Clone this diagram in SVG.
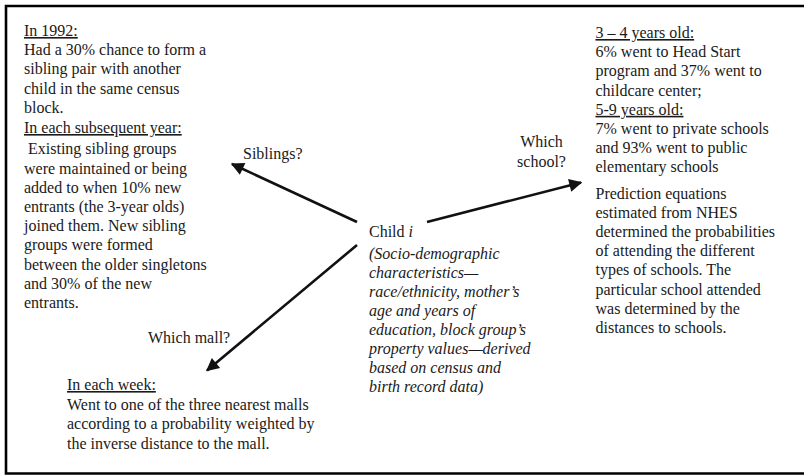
<svg xmlns="http://www.w3.org/2000/svg" width="804" height="475" viewBox="0 0 804 475">
<style>
  text { font-family: "Liberation Serif", "Times New Roman", serif; font-size: 16px; fill: #1a1a1a; }
  .u { text-decoration: underline; }
  .it { font-style: italic; }
  .conn { stroke: #111; stroke-width: 2.6; fill: none; marker-end: url(#ah); }
</style>
<defs>
  <marker id="ah" viewBox="0 0 10 10" refX="9" refY="5" markerWidth="5.5" markerHeight="5" orient="auto" markerUnits="strokeWidth">
    <path d="M0,0 L10,5 L0,10 Z" fill="#111"/>
  </marker>
</defs>
<rect width="804" height="475" fill="#fff"/>
<path d="M810 6 H6 V473.5 H810" fill="none" stroke="#000" stroke-width="2.6"/>

<g id="connectors">
  <line class="conn" x1="357" y1="222" x2="232" y2="164"/>
  <line class="conn" x1="427" y1="222" x2="581" y2="182.5"/>
  <line class="conn" x1="357" y1="245" x2="207" y2="370.5"/>
</g>

<g id="siblings-node">
  <text x="24" y="36"><tspan class="u">In 1992:</tspan></text>
  <text x="24" y="55.2">Had a 30% chance to form a</text>
  <text x="24" y="74.4">sibling pair with another</text>
  <text x="24" y="93.6">child in the same census</text>
  <text x="24" y="112.8">block.</text>
  <text x="24" y="133"><tspan class="u">In each subsequent year:</tspan></text>
  <text x="28" y="153.5">Existing sibling groups</text>
  <text x="24" y="173.5">were maintained or being</text>
  <text x="24" y="192.7">added to when 10% new</text>
  <text x="24" y="211.9">entrants (the 3-year olds)</text>
  <text x="24" y="231.1">joined them. New sibling</text>
  <text x="24" y="250.3">groups were formed</text>
  <text x="24" y="269.5">between the older singletons</text>
  <text x="24" y="288.7">and 30% of the new</text>
  <text x="24" y="308">entrants.</text>
</g>

<g id="label-siblings">
  <text x="243" y="159">Siblings?</text>
</g>

<g id="label-school">
  <text x="541.5" y="147" text-anchor="middle">Which</text>
  <text x="541.5" y="166.5" text-anchor="middle">school?</text>
</g>

<g id="label-mall">
  <text x="148" y="343">Which mall?</text>
</g>

<g id="child-node">
  <text x="369" y="237">Child <tspan class="it">i</tspan></text>
  <text class="it" x="369" y="259">(Socio-demographic</text>
  <text class="it" x="369" y="278">characteristics—</text>
  <text class="it" x="369" y="297">race/ethnicity, mother’s</text>
  <text class="it" x="369" y="316">age and years of</text>
  <text class="it" x="369" y="335">education, block group’s</text>
  <text class="it" x="369" y="354">property values—derived</text>
  <text class="it" x="369" y="373">based on census and</text>
  <text class="it" x="369" y="392">birth record data)</text>
</g>

<g id="school-node">
  <text x="595.5" y="38"><tspan class="u">3 – 4 years old:</tspan></text>
  <text x="595.5" y="57.2">6% went to Head Start</text>
  <text x="595.5" y="76.4">program and 37% went to</text>
  <text x="595.5" y="95.6">childcare center;</text>
  <text x="595.5" y="114.8"><tspan class="u">5-9 years old:</tspan></text>
  <text x="595.5" y="134">7% went to private schools</text>
  <text x="595.5" y="153.2">and 93% went to public</text>
  <text x="595.5" y="172.4">elementary schools</text>
  <text x="595.5" y="198.5">Prediction equations</text>
  <text x="595.5" y="217.7">estimated from NHES</text>
  <text x="595.5" y="236.9">determined the probabilities</text>
  <text x="595.5" y="256.1">of attending the different</text>
  <text x="595.5" y="275.3">types of schools. The</text>
  <text x="595.5" y="294.5">particular school attended</text>
  <text x="595.5" y="313.7">was determined by the</text>
  <text x="595.5" y="332.9">distances to schools.</text>
</g>

<g id="mall-node">
  <text x="67" y="390"><tspan class="u">In each week:</tspan></text>
  <text x="67" y="409.5">Went to one of the three nearest malls</text>
  <text x="67" y="428.7">according to a probability weighted by</text>
  <text x="67" y="448.5">the inverse distance to the mall.</text>
</g>
</svg>
